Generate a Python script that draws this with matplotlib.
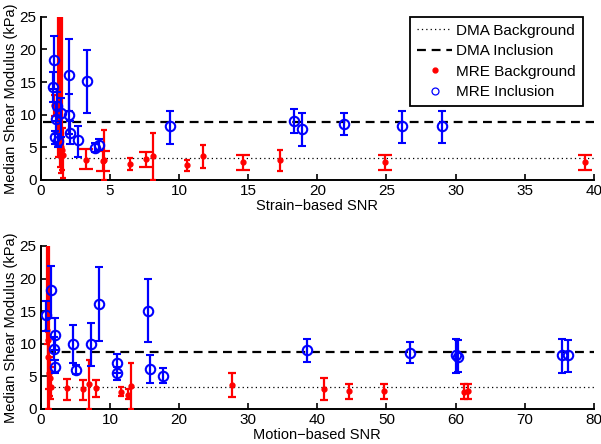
import matplotlib
matplotlib.use('Agg')
import matplotlib.pyplot as plt
import numpy as np

plt.rcParams['font.family'] = ['Liberation Sans', 'DejaVu Sans']
plt.rcParams['font.size'] = 10.5

# DMA reference values (kPa)
dma_background = 3.3
dma_inclusion = 8.8

# strain-based SNR panel: MRE background (median, low, high)
strain_bg_snr = [0.95, 1.25, 1.35, 1.45, 1.55, 1.6, 3.25, 4.5, 4.6, 6.45, 7.6, 8.1,
                 10.55, 11.7, 14.6, 17.3, 24.9, 39.4]
strain_bg_mod = [11.5, 9.0, 6.0, 5.0, 4.5, 3.8, 3.1, 2.9, 3.0, 2.45, 3.2, 3.6,
                 2.3, 3.6, 2.8, 3.1, 2.7, 2.7]
strain_bg_lo = [9.8, 3.5, 2.0, 1.0, 1.5, 0.3, 1.6, 1.4, 0.0, 1.5, 2.0, 0.0,
                1.4, 1.8, 1.5, 1.4, 1.5, 1.5]
strain_bg_hi = [13.0, 40.0, 40.0, 40.0, 32.0, 8.0, 4.7, 4.4, 7.7, 3.3, 4.3, 7.2,
                3.0, 5.4, 3.8, 4.6, 3.8, 3.8]

# strain-based SNR panel: MRE inclusion
strain_inc_snr = [0.85, 0.96, 1.0, 1.09, 1.14, 1.25, 1.43, 2.05, 2.05, 2.1, 2.7, 3.35,
                  3.9, 4.2, 9.35, 18.3, 18.9, 21.9, 26.1, 29.0]
strain_inc_mod = [14.3, 18.4, 6.5, 9.3, 11.4, 5.9, 10.3, 16.1, 10.0, 7.2, 6.1, 15.1,
                  4.95, 5.4, 8.2, 8.95, 7.8, 8.6, 8.2, 8.3]
strain_inc_lo = [12.0, 14.0, 5.5, 7.0, 9.0, 5.0, 6.5, 10.5, 7.0, 5.5, 3.5, 10.2,
                 4.3, 4.5, 5.5, 7.2, 5.2, 6.9, 5.6, 5.6]
strain_inc_hi = [16.5, 22.0, 7.5, 12.0, 13.5, 7.0, 12.5, 21.6, 13.2, 9.0, 8.2, 19.9,
                 5.6, 6.3, 10.6, 10.8, 10.3, 10.2, 10.6, 10.6]

# motion-based SNR panel: MRE background
motion_bg_snr = [0.9, 1.0, 1.1, 1.2, 1.3, 1.4, 3.8, 6.1, 7.0, 7.97, 11.55, 12.65, 13.0,
                 27.6, 40.9, 44.6, 49.6, 61.2, 61.8]
motion_bg_mod = [12.1, 10.6, 8.0, 5.5, 4.75, 3.4, 3.2, 3.0, 3.9, 3.2, 2.65, 2.2, 3.5,
                 3.7, 3.0, 2.75, 2.75, 2.6, 2.7]
motion_bg_lo = [10.0, 0.0, 3.0, 0.0, 2.0, 1.5, 1.4, 1.4, 0.0, 1.9, 2.0, 1.5, 0.0,
                1.9, 1.4, 1.5, 1.5, 1.5, 1.5]
motion_bg_hi = [40.0, 40.0, 40.0, 30.0, 8.0, 6.5, 4.6, 4.4, 7.5, 4.4, 3.3, 3.0, 7.0,
                5.5, 4.7, 3.9, 3.9, 3.9, 3.9]

# motion-based SNR panel: MRE inclusion
motion_inc_snr = [0.8, 1.4, 1.9, 2.0, 2.0, 4.7, 5.1, 7.3, 8.45, 11.05, 11.05, 15.55,
                  15.8, 17.6, 38.5, 53.4, 60.1, 60.3, 75.4, 76.2]
motion_inc_mod = [14.4, 18.25, 9.2, 11.3, 6.5, 9.9, 6.0, 10.0, 16.1, 7.0, 5.5, 15.0,
                  6.1, 5.1, 9.05, 8.6, 8.3, 7.9, 8.2, 8.3]
motion_inc_lo = [12.0, 14.0, 7.5, 9.0, 5.5, 7.0, 5.3, 6.6, 10.4, 5.5, 4.4, 10.2,
                 4.0, 4.0, 7.2, 7.0, 5.5, 5.6, 5.5, 5.6]
motion_inc_hi = [16.5, 22.0, 11.0, 13.9, 7.5, 12.9, 6.8, 13.2, 21.7, 8.5, 6.5, 19.9,
                 8.3, 6.3, 10.8, 10.2, 10.7, 10.5, 10.7, 10.6]

# points drawn with the wide tee caps in the original figure
strain_wide = [6, 7, 10, 14, 16, 17]
motion_wide = [6, 7, 9, 13, 14, 15, 16, 17, 18]


def draw_errors(ax, snr, mod, lo, hi, color, wide, wide_cap, cap=2.0, **kw):
    snr = np.array(snr)
    mod = np.array(mod)
    err = np.array([mod - np.array(lo), np.array(hi) - mod])
    for i in range(len(snr)):
        cs = wide_cap if i in wide else cap
        ax.errorbar(snr[i], mod[i], yerr=err[:, i:i + 1], color=color, ecolor=color,
                    elinewidth=1.6, capsize=cs, capthick=1.6, linestyle='none', **kw)


fig = plt.figure(figsize=(6.01, 4.44), dpi=100)
ax1 = fig.add_axes([0.068, 0.595, 0.920, 0.367])
ax2 = fig.add_axes([0.068, 0.079, 0.920, 0.367])

panels = [
    (ax1, 40, 'Strain\u2212based SNR', strain_bg_snr, strain_bg_mod, strain_bg_lo, strain_bg_hi,
     strain_inc_snr, strain_inc_mod, strain_inc_lo, strain_inc_hi, strain_wide, 4.8, 0.007, 0.004),
    (ax2, 80, 'Motion\u2212based SNR', motion_bg_snr, motion_bg_mod, motion_bg_lo, motion_bg_hi,
     motion_inc_snr, motion_inc_mod, motion_inc_lo, motion_inc_hi, motion_wide, 3.2, 0.024, 0.011),
]

for (ax, xmax, xlab, bs, bm, bl, bh, isn, im, il, ih, wide, wcap, dot0, dash0) in panels:
    ax.axhline(dma_background, xmin=dot0, color='k', lw=0.9, ls=(0, (1, 2.5)))
    ax.axhline(dma_inclusion, xmin=dash0, color='k', lw=1.6, ls=(0, (4, 2.6)))
    draw_errors(ax, bs, bm, bl, bh, 'red', wide, wcap, marker='o', ms=3.5, zorder=3)
    draw_errors(ax, isn, im, il, ih, 'blue', [], 0, cap=2.6, marker='o', ms=6.8,
                mfc='none', mew=1.5, zorder=4)
    ax.set_xlim(0, xmax)
    ax.set_ylim(0, 25)
    ax.set_yticks([0, 5, 10, 15, 20, 25])
    ax.set_xlabel(xlab, labelpad=1)
    ax.set_ylabel('Median Shear Modulus (kPa)', labelpad=1)
    ax.spines['top'].set_visible(False)
    ax.spines['right'].set_visible(False)
    ax.spines['left'].set_linewidth(1.4)
    ax.spines['bottom'].set_linewidth(1.4)
    ax.tick_params(direction='in', length=4, width=1.2, labelsize=11, pad=3)

handles = [
    plt.Line2D([], [], color='k', lw=0.9, ls=(0, (1, 2.5))),
    plt.Line2D([], [], color='k', lw=1.6, ls=(0, (4, 2.6))),
    plt.Line2D([], [], color='red', marker='o', ms=3.5, ls='none'),
    plt.Line2D([], [], color='blue', marker='o', ms=5, mfc='none', mew=0.9, ls='none'),
]
labels = ['DMA Background', 'DMA Inclusion', 'MRE Background', 'MRE Inclusion']
leg = ax1.legend(handles, labels, loc='upper right', bbox_to_anchor=(0.98, 1.0),
                 borderaxespad=0, fancybox=False, framealpha=1, edgecolor='k',
                 handlelength=2.3, handletextpad=0.25, borderpad=0.45,
                 labelspacing=0.42, fontsize=11)
leg.get_frame().set_linewidth(1.3)

fig.savefig('out.png', dpi=100)
